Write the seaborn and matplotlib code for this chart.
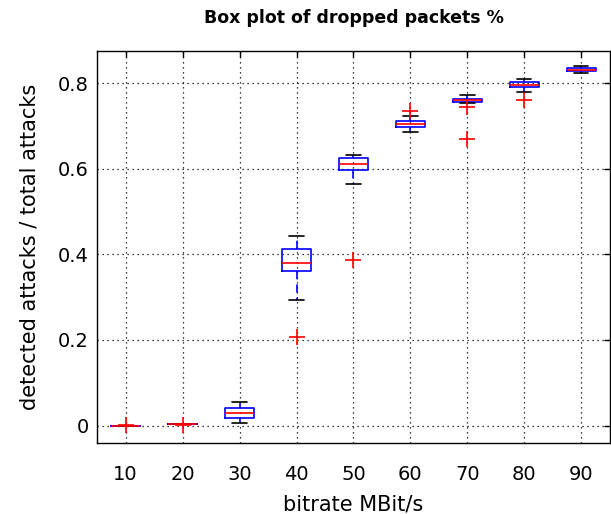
#!/usr/bin/env python3

import pandas as pd
import seaborn as sns
import matplotlib

matplotlib.use("Agg")
import matplotlib.pyplot as plt

# detection ratio per run, one list per bitrate
bitrates = ["10", "20", "30", "40", "50", "60", "70", "80", "90"]
ratio_10 = [0.0, 0.0, 0.0, 0.0, 0.0, 0.0, 0.0, 0.0, 0.001]
ratio_20 = [0.002, 0.003, 0.003, 0.003, 0.003, 0.003, 0.003, 0.003, 0.003]
ratio_30 = [0.006, 0.012, 0.017, 0.024, 0.030, 0.036, 0.042, 0.050, 0.056]
ratio_40 = [0.206, 0.293, 0.362, 0.372, 0.380, 0.400, 0.412, 0.430, 0.443]
ratio_50 = [0.387, 0.564, 0.598, 0.604, 0.6105, 0.618, 0.625, 0.629, 0.632]
ratio_60 = [0.686, 0.693, 0.699, 0.703, 0.7055, 0.709, 0.712, 0.723, 0.735]
ratio_70 = [0.671, 0.745, 0.754, 0.757, 0.758, 0.759, 0.760, 0.761, 0.763,
            0.764, 0.767, 0.770, 0.772]
ratio_80 = [0.760, 0.780, 0.792, 0.795, 0.797, 0.800, 0.803, 0.808, 0.811]
ratio_90 = [0.825, 0.826, 0.828, 0.830, 0.832, 0.834, 0.837, 0.839, 0.840]

yticks = [0, 0.2, 0.4, 0.6, 0.8]
ytick_labels = ["0", "0.2", "0.4", "0.6", "0.8"]


def main():
    sns.set_style("white")
    plt.rcParams["font.family"] = ["DejaVu Sans"]
    plt.rcParams["text.color"] = "black"
    plt.rcParams["axes.labelcolor"] = "black"

    groups = [ratio_10, ratio_20, ratio_30, ratio_40, ratio_50,
              ratio_60, ratio_70, ratio_80, ratio_90]
    rows = []
    for rate, vals in zip(bitrates, groups):
        for v in vals:
            rows.append({"bitrate": rate, "ratio": v})
    data = pd.DataFrame(rows)

    fig = plt.figure(figsize=(6.11, 5.14), dpi=100)
    ax = fig.add_axes([0.159, 0.138, 0.839, 0.763])

    sns.boxplot(
        data=data,
        x="bitrate",
        y="ratio",
        order=bitrates,
        width=0.5,
        whis=1.5,
        fill=False,
        color="blue",
        linewidth=1,
        boxprops=dict(color="blue", linewidth=1.2),
        medianprops=dict(color="red", linewidth=1.2, zorder=5),
        whiskerprops=dict(color="blue", linestyle=(0, (5, 3)), linewidth=1.2),
        capprops=dict(color="black", linewidth=1.2),
        flierprops=dict(marker="+", markeredgecolor="red", markersize=11,
                        markeredgewidth=1.2, zorder=6),
        ax=ax,
    )

    ax.set_xlim(-0.5, 8.5)
    ax.set_ylim(-0.041, 0.876)
    ax.set_yticks(yticks)
    ax.set_yticklabels(ytick_labels)

    ax.set_axisbelow(True)
    ax.grid(True, color="black", linestyle=(0, (1, 3)), linewidth=0.9)
    for s in ax.spines.values():
        s.set_color("black")
        s.set_linewidth(1)
        s.set_visible(True)

    ax.tick_params(axis="both", direction="in", length=4, width=1,
                   top=True, right=True, labelsize=14, colors="black")
    ax.tick_params(axis="x", pad=16)
    ax.tick_params(axis="y", pad=6)

    ax.set_xlabel("bitrate MBit/s", fontsize=15, labelpad=7)
    ax.set_ylabel("detected attacks / total attacks", fontsize=15, labelpad=13)
    ax.set_title("Box plot of dropped packets %", fontsize=12.5,
                 fontweight="bold", pad=20, color="black")

    fig.savefig("out.png", dpi=100, facecolor="white")


if __name__ == "__main__":
    main()
